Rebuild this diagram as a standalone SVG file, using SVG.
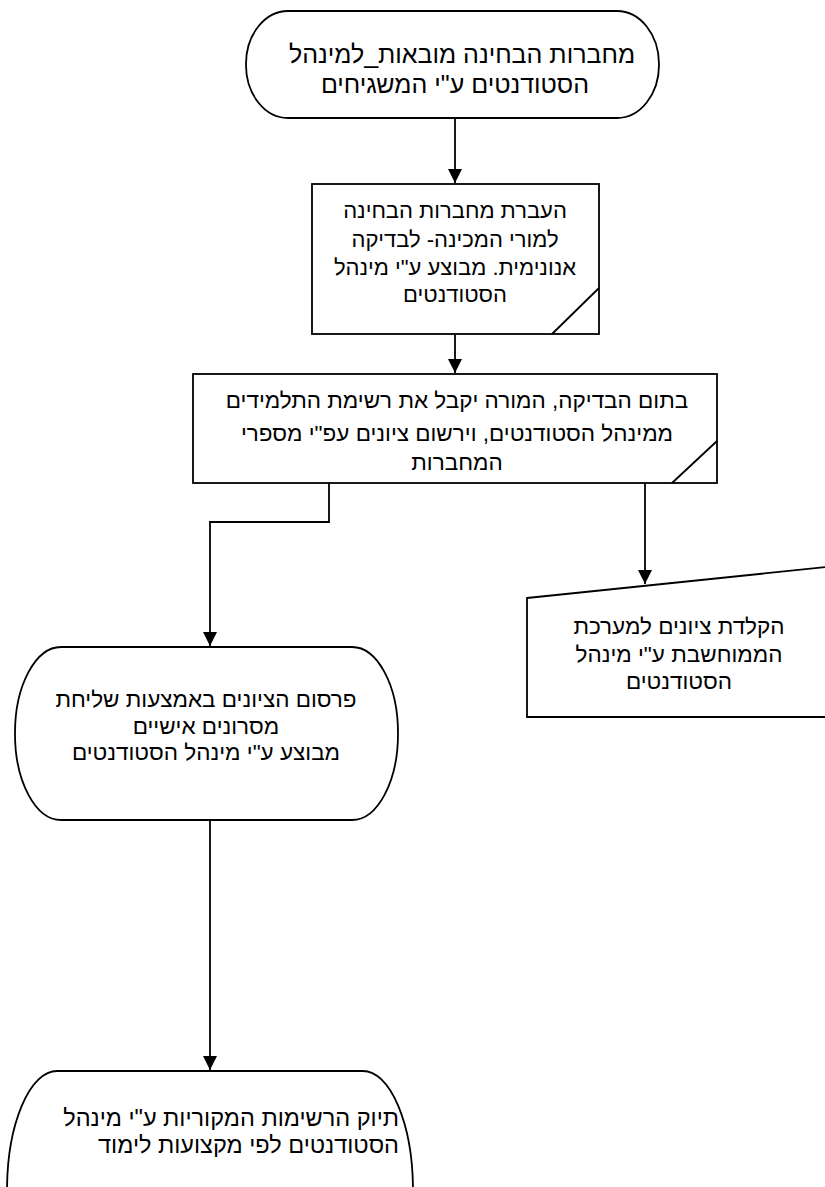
<svg xmlns="http://www.w3.org/2000/svg" width="825" height="1187" viewBox="0 0 825 1187">
<style>
.s{fill:#fff;stroke:#000;stroke-width:1.8}
.f{fill:none;stroke:#000;stroke-width:1.8}
.t{font-family:"Liberation Sans",Arial,sans-serif;font-size:22.5px;fill:#000;direction:rtl}
.c{fill:none;stroke:#000;stroke-width:1.8}
</style>
<defs>
<marker id="a" markerUnits="userSpaceOnUse" markerWidth="16" markerHeight="16" refX="14" refY="7" orient="auto">
<path d="M0,0 L14,7 L0,14 Z" fill="#000"/>
</marker>
</defs>
<rect width="825" height="1187" fill="#fff"/>
<g id="connectors">
<path class="c" d="M455,118 V183" marker-end="url(#a)"/>
<path class="c" d="M455,334 V373" marker-end="url(#a)"/>
<path class="c" d="M329,483 V522 H210 V646" marker-end="url(#a)"/>
<path class="c" d="M645,483 V584" marker-end="url(#a)"/>
<path class="c" d="M210,820 V1070" marker-end="url(#a)"/>
</g>
<g id="n1">
<rect class="s" x="246" y="11" width="413" height="107" rx="42" ry="53"/>
<text class="t" x="462" y="63" text-anchor="middle" style="font-size:25px">מחברות הבחינה מובאות_למינהל</text>
<text class="t" x="455" y="93" text-anchor="middle" style="font-size:25px">הסטודנטים ע"י המשגיחים</text>
</g>
<g id="n2">
<rect class="s" x="312" y="184" width="287" height="150"/>
<path class="f" d="M552,334 L599,288"/>
<text class="t" x="455" y="218" text-anchor="middle" style="font-size:22px">העברת מחברות הבחינה</text>
<text class="t" x="455" y="247" text-anchor="middle" style="font-size:22px">למורי המכינה- לבדיקה</text>
<text class="t" x="455" y="275" text-anchor="middle" style="font-size:22px">אנונימית. מבוצע ע"י מינהל</text>
<text class="t" x="455" y="302" text-anchor="middle" style="font-size:22px">הסטודנטים</text>
</g>
<g id="n3">
<rect class="s" x="193" y="374" width="524" height="109"/>
<path class="f" d="M672,483 L717,441"/>
<text class="t" x="457" y="408" text-anchor="middle">בתום הבדיקה, המורה יקבל את רשימת התלמידים</text>
<text class="t" x="457" y="441" text-anchor="middle">ממינהל הסטודנטים, וירשום ציונים עפ"י מספרי</text>
<text class="t" x="457" y="470" text-anchor="middle">המחברות</text>
</g>
<g id="n4">
<path class="s" d="M527,598 L827,567 L827,717 L527,717 Z"/>
<text class="t" x="679" y="634" text-anchor="middle">הקלדת ציונים למערכת</text>
<text class="t" x="679" y="662" text-anchor="middle">הממוחשבת ע"י מינהל</text>
<text class="t" x="679" y="689" text-anchor="middle">הסטודנטים</text>
</g>
<g id="n5">
<rect class="s" x="15" y="647" width="383" height="173" rx="46" ry="86"/>
<text class="t" x="206" y="707" text-anchor="middle">פרסום הציונים באמצעות שליחת</text>
<text class="t" x="206" y="734" text-anchor="middle">מסרונים אישיים</text>
<text class="t" x="206" y="760" text-anchor="middle">מבוצע ע"י מינהל הסטודנטים</text>
</g>
<g id="n6">
<rect class="s" x="7" y="1071" width="406" height="240" rx="50" ry="120"/>
<text class="t" x="399" y="1126" text-anchor="start" style="font-size:23.5px">תיוק הרשימות המקוריות ע"י מינהל</text>
<text class="t" x="399" y="1153" text-anchor="start" style="font-size:23.5px">הסטודנטים לפי מקצועות לימוד</text>
</g>
</svg>
